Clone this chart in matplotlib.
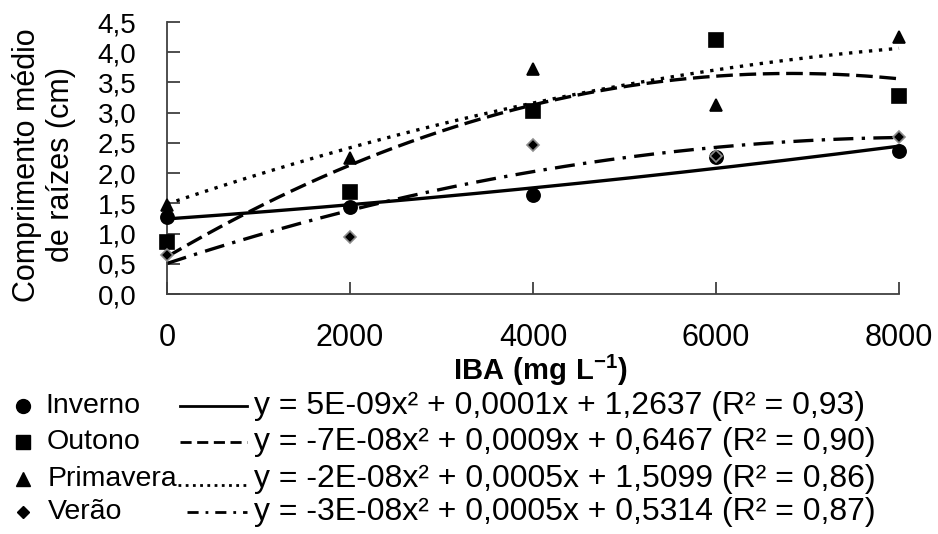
import numpy as np
import matplotlib.pyplot as plt
from matplotlib.lines import Line2D

plt.rcParams['font.family'] = ['Liberation Sans', 'DejaVu Sans']
plt.rcParams['mathtext.fontset'] = 'custom'
plt.rcParams['mathtext.rm'] = 'Liberation Sans'
plt.rcParams['mathtext.bf'] = 'Liberation Sans:bold'

# IBA dose (mg/L) and mean root length (cm) per season
iba = [0, 2000, 4000, 6000, 8000]
inverno = [1.28, 1.44, 1.64, 2.27, 2.37]
outono = [0.86, 1.68, 3.02, 4.20, 3.28]
primavera = [1.48, 2.25, 3.72, 3.13, 4.26]
verao = [0.65, 0.95, 2.46, 2.28, 2.59]

estacoes = ['Inverno', 'Outono', 'Primavera', 'Verão']
equacoes = [
    'y = 5E-09x² + 0,0001x + 1,2637 (R² = 0,93)',
    'y = -7E-08x² + 0,0009x + 0,6467 (R² = 0,90)',
    'y = -2E-08x² + 0,0005x + 1,5099 (R² = 0,86)',
    'y = -3E-08x² + 0,0005x + 0,5314 (R² = 0,87)',
]
x_ticks = [0, 2000, 4000, 6000, 8000]
y_ticks = [0.0, 0.5, 1.0, 1.5, 2.0, 2.5, 3.0, 3.5, 4.0, 4.5]

W, H = 938, 534
fig = plt.figure(figsize=(W / 100, H / 100), dpi=100)
ax = fig.add_axes([167 / W, 1 - 294 / H, (899 - 167) / W, (294 - 22) / H])

series = [inverno, outono, primavera, verao]
markers = ['o', 's', '^', 'D']
msizes = [9.5, 9.5, 9, 6.5]
edges = ['black', 'black', 'black', '#8c8c8c']
styles = ['-', (0, (5, 2)), (0, (1, 2)), (0, (6, 2.5, 1, 2.5))]

xs = np.linspace(0, 8000, 200)
for vals, m, ms, ec, ls in zip(series, markers, msizes, edges, styles):
    # quadratic trend line fitted to the points
    coef = np.polyfit(iba, vals, 2)
    ax.plot(xs, np.polyval(coef, xs), color='black', lw=2.4, ls=ls,
            clip_on=False, zorder=2)
    ax.plot(iba, vals, ls='none', marker=m, ms=ms, mfc='black', mec=ec,
            mew=1.2, clip_on=False, zorder=3)

ax.set_xlim(0, 8000)
ax.set_ylim(0, 4.5)
ax.set_xticks(x_ticks)
ax.set_xticklabels([str(t) for t in x_ticks], fontsize=22)
ax.set_yticks(y_ticks)
ax.set_yticklabels([f'{t:.1f}'.replace('.', ',') for t in y_ticks], fontsize=20)
ax.tick_params(direction='in', length=9, width=1.3, color='#404040')
ax.tick_params(axis='x', pad=21)
ax.tick_params(axis='y', pad=22)
for s in ['top', 'right']:
    ax.spines[s].set_visible(False)
for s in ['left', 'bottom']:
    ax.spines[s].set_linewidth(1.3)
    ax.spines[s].set_color('#404040')

fig.text(540 / W, 1 - 370 / H, r'$\mathbf{IBA\ (mg\ L^{-1})}$',
         fontsize=21, ha='center', va='center')
fig.text(44 / W, 1 - 165 / H, 'Comprimento médio\nde raízes (cm)',
         fontsize=22, rotation=90, ha='center', va='center', linespacing=1.2)

# legend drawn below the axes
rows = [406, 442, 479, 512]
name_x = [45, 47, 48, 48]
line_span = [(180, 247), (180, 247), (178, 247), (187, 247)]
leg_styles = ['-', (0, (4, 2)), (0, (1, 1.6)), (0, (4, 2.5, 1, 2.5))]
leg_ms = [10, 9.5, 9.5, 6]
for i in range(4):
    yf = 1 - rows[i] / H
    fig.add_artist(Line2D([23 / W], [yf], marker=markers[i], ms=leg_ms[i],
                          mfc='black', mec='black', ls='none',
                          transform=fig.transFigure))
    fig.text(name_x[i] / W, yf, estacoes[i], fontsize=20.5, ha='left',
             va='center')
    x0, x1 = line_span[i]
    ly = yf - (6 / H if i == 2 else 0)
    fig.add_artist(Line2D([x0 / W, x1 / W], [ly, ly], color='black', lw=2,
                          ls=leg_styles[i], transform=fig.transFigure))
    fig.text(254 / W, yf, equacoes[i], fontsize=23, ha='left', va='center')

fig.savefig('out.png', dpi=100)
